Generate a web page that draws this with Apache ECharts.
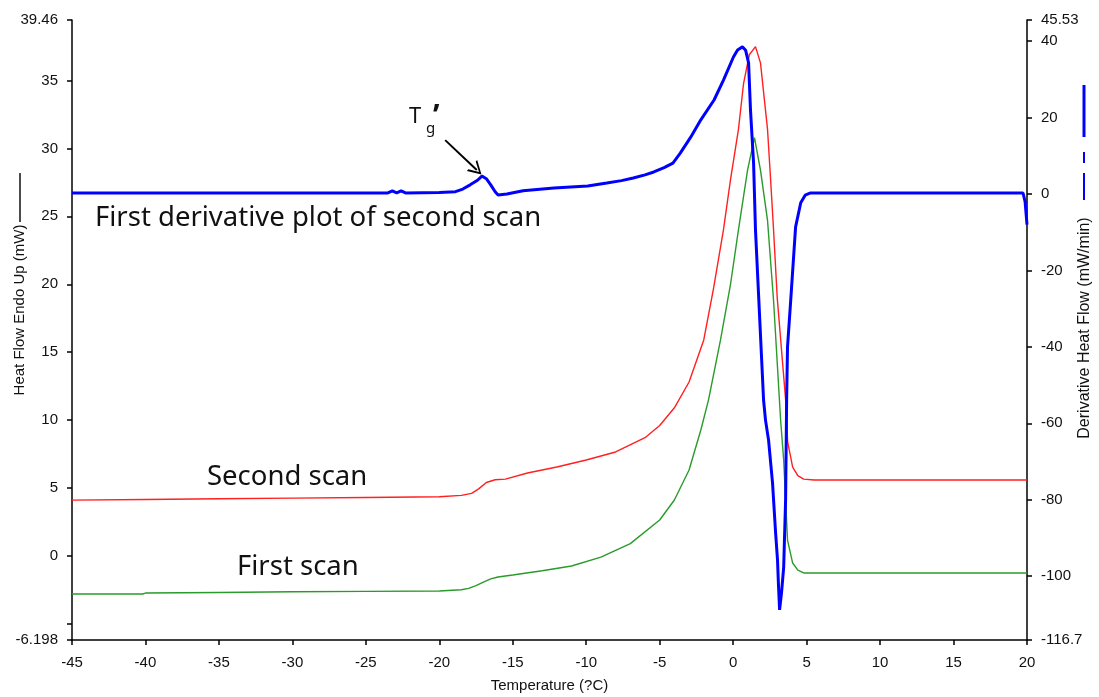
<!DOCTYPE html>
<html lang="en">
<head>
    <meta charset="UTF-8">
    <title>DSC Tg' chart</title>
    <script src="https://cdn.jsdelivr.net/npm/echarts@6.0.0/dist/echarts.min.js"></script>
    <style>
        html, body { margin: 0; padding: 0; background: #fff; }
        #chart { width: 1099px; height: 697px; }
    </style>
</head>
<body>
    <div id="chart"></div>

    <script>
        // second scan (left axis, mW)
        var secondScanT = [-45, -40, -35, -30, -25, -20, -18.5, -17.8, -17.3, -16.8, -16.2, -15.5, -14, -12, -10, -8, -6, -5, -4, -3, -2, -1.35,
            -0.66, -0.18, 0.36, 0.71, 1.1, 1.52, 1.86, 2.34, 2.55, 2.75, 3.0, 3.57, 3.71, 4.05, 4.4, 4.8, 5.5, 10, 15, 20];
        var secondScanV = [4.1, 4.15, 4.2, 4.25, 4.3, 4.35, 4.45, 4.6, 4.95, 5.4, 5.6, 5.65, 6.1, 6.54, 7.06, 7.65, 8.7, 9.6, 10.9, 12.8, 15.9, 19.6,
            24.0, 27.7, 31.4, 34.8, 36.9, 37.5, 36.3, 31.4, 27.7, 24.0, 19.0, 11.5, 8.4, 6.54, 5.9, 5.65, 5.58, 5.58, 5.58, 5.58];

        // first scan (left axis, mW)
        var firstScanT = [-45, -40.2, -40, -35, -30, -25, -20, -18.5, -18, -17.5, -17, -16.5, -16, -15, -13, -11, -9, -7, -5, -4, -3, -2.2, -1.68,
            -0.86, -0.18, 0.36, 0.98, 1.45, 1.86, 2.34, 2.75, 3.23, 3.44, 3.7, 4.05, 4.4, 4.8, 5.5, 10, 15, 20];
        var firstScanV = [-2.81, -2.81, -2.74, -2.7, -2.65, -2.62, -2.59, -2.5, -2.4, -2.2, -1.93, -1.7, -1.56, -1.41, -1.1, -0.75, -0.1, 0.9, 2.64, 4.11, 6.32, 9.27, 11.47,
            15.9, 20.0, 24.0, 28.4, 30.8, 28.4, 24.7, 18.8, 10.0, 7.05, 1.16, -0.53, -1.05, -1.26, -1.26, -1.26, -1.26, -1.26];

        // first derivative of second scan (right axis, mW/min)
        var derivT = [-45, -30, -23.5, -23.2, -22.9, -22.6, -22.3, -20, -18.9, -18.4, -17.9, -17.4, -17.1, -16.8, -16.5, -16.2, -16.0, -15.4, -14.3, -12.2,
            -9.9, -8.6, -7.6, -6.8, -6.0, -5.4, -4.7, -4.1, -3.6, -2.9, -2.2, -1.3, -0.66, 0.02, 0.3, 0.63, 0.85, 1.05, 1.18, 1.39, 1.52, 2.07, 2.2, 2.41, 2.68, 2.89, 3.02, 3.09, 3.16,
            3.3, 3.44, 3.57, 3.64, 3.7, 3.92, 4.25, 4.6, 4.9, 5.27, 10, 15, 19.73, 19.87, 20];
        var derivV = [0.27, 0.27, 0.27, 0.8, 0.27, 0.8, 0.27, 0.4, 0.6, 1.3, 2.4, 3.6, 4.7, 4.0, 2.4, 0.6, -0.26, 0.0, 0.87, 1.57,
            2.1, 2.88, 3.5, 4.2, 5.0, 5.76, 6.9, 8.1, 10.7, 14.8, 19.4, 24.6, 29.8, 35.85, 37.7, 38.5, 37.6, 34.3, 22.0, 8.1, -9.4, -53.9, -59.1, -64.4, -75.6, -88.7, -95.8, -102.8, -108.8,
            -104, -97.6, -80, -53.9, -40, -27.7, -8.6, -2.3, -0.3, 0.27, 0.27, 0.27, 0.27, -2, -8];

        // axis tick values
        var leftLabels = [-6.198, 0, 5, 10, 15, 20, 25, 30, 35, 39.46];
        var leftTicks = [-6.198, -5, 0, 5, 10, 15, 20, 25, 30, 35, 39.46];
        var rightLabels = [-116.7, -100, -80, -60, -40, -20, 0, 20, 40, 45.53];

        function pairs(xs, ys) {
            return xs.map(function (x, i) { return [x, ys[i]]; });
        }

        var chart = echarts.init(document.getElementById('chart'), null, { renderer: 'canvas' });

        var axisFont = { fontFamily: 'Liberation Sans, Arial, sans-serif', fontSize: 15, color: '#111' };
        var noteFont = 'Noto Sans, sans-serif';
        var axisLine = { show: true, onZero: false, lineStyle: { color: '#000', width: 1.5 } };

        var option = {
            animation: false,
            backgroundColor: '#fff',
            grid: { left: 72, right: 72, top: 20, bottom: 57, containLabel: false, outerBoundsMode: 'none' },
            xAxis: {
                type: 'value',
                min: -45,
                max: 20,
                interval: 5,
                name: 'Temperature (?C)',
                nameLocation: 'middle',
                nameGap: 38,
                nameTextStyle: axisFont,
                axisLine: axisLine,
                axisTick: { show: true, inside: false, length: 5, lineStyle: { color: '#000', width: 1.5 } },
                axisLabel: Object.assign({ margin: 15 }, axisFont),
                splitLine: { show: false }
            },
            yAxis: [{
                type: 'value',
                position: 'left',
                min: -6.198,
                max: 39.46,
                axisLine: axisLine,
                axisTick: { show: true, inside: false, length: 5, customValues: leftTicks, lineStyle: { color: '#000', width: 1.5 } },
                axisLabel: Object.assign({ margin: 14, customValues: leftLabels }, axisFont),
                splitLine: { show: false }
            }, {
                type: 'value',
                position: 'right',
                min: -116.7,
                max: 45.53,
                axisLine: axisLine,
                axisTick: { show: true, inside: false, length: 5, customValues: rightLabels, lineStyle: { color: '#000', width: 1.5 } },
                axisLabel: Object.assign({ margin: 14, customValues: rightLabels }, axisFont),
                splitLine: { show: false }
            }],
            series: [{
                name: 'Second scan',
                type: 'line',
                yAxisIndex: 0,
                data: pairs(secondScanT, secondScanV),
                showSymbol: false,
                lineStyle: { color: '#ff2020', width: 1.4 },
                z: 2
            }, {
                name: 'First scan',
                type: 'line',
                yAxisIndex: 0,
                data: pairs(firstScanT, firstScanV),
                showSymbol: false,
                lineStyle: { color: '#2a9a2a', width: 1.4 },
                z: 3
            }, {
                name: 'First derivative plot of second scan',
                type: 'line',
                yAxisIndex: 1,
                data: pairs(derivT, derivV),
                showSymbol: false,
                lineStyle: { color: '#0000ff', width: 3 },
                z: 4,
                markLine: {
                    silent: true,
                    symbol: ['none', 'path://M0,12 L6,0 L12,12 L10.3,12 L6,3.2 L1.7,12 Z'],
                    symbolSize: [15, 13],
                    label: { show: false },
                    lineStyle: { color: '#000', width: 2, type: 'solid' },
                    data: [[{ coord: [-19.6, 14.1] }, { coord: [-17.45, 6.3] }]]
                }
            }],
            graphic: [
                // axis titles with their line-style keys
                { type: 'text', x: 20, y: 310, rotation: Math.PI / 2,
                  style: { text: 'Heat Flow Endo Up (mW)', font: '15px Liberation Sans, Arial, sans-serif', fill: '#111', align: 'center', verticalAlign: 'middle' } },
                { type: 'line', shape: { x1: 20, y1: 173, x2: 20, y2: 222 }, style: { stroke: '#111', lineWidth: 1.5 } },
                { type: 'text', x: 1085, y: 328, rotation: Math.PI / 2,
                  style: { text: 'Derivative Heat Flow (mW/min)', font: '16px Liberation Sans, Arial, sans-serif', fill: '#111', align: 'center', verticalAlign: 'middle' } },
                { type: 'line', shape: { x1: 1084, y1: 85, x2: 1084, y2: 137 }, style: { stroke: '#0000ff', lineWidth: 3 } },
                { type: 'line', shape: { x1: 1084, y1: 152, x2: 1084, y2: 163 }, style: { stroke: '#0000ff', lineWidth: 2 } },
                { type: 'line', shape: { x1: 1084, y1: 173, x2: 1084, y2: 200 }, style: { stroke: '#0000ff', lineWidth: 2 } },
                // annotations
                { type: 'text', x: 95, y: 218,
                  style: { text: 'First derivative plot of second scan', font: '27.5px ' + noteFont, fill: '#111', verticalAlign: 'middle' } },
                { type: 'text', x: 207, y: 477,
                  style: { text: 'Second scan', font: '27.5px ' + noteFont, fill: '#111', verticalAlign: 'middle' } },
                { type: 'text', x: 237, y: 567,
                  style: { text: 'First scan', font: '27.5px ' + noteFont, fill: '#111', verticalAlign: 'middle' } },
                { type: 'text', x: 409, y: 117,
                  style: { text: 'T', font: '22px ' + noteFont, fill: '#111', verticalAlign: 'middle' } },
                { type: 'text', x: 426, y: 129,
                  style: { text: 'g', font: '15px ' + noteFont, fill: '#111', verticalAlign: 'middle' } },
                { type: 'text', x: 433, y: 117,
                  style: { text: '\u2019', font: 'bold 30px ' + noteFont, fill: '#111', verticalAlign: 'middle' } }
            ]
        };

        chart.setOption(option);
    </script>
</body>
</html>
